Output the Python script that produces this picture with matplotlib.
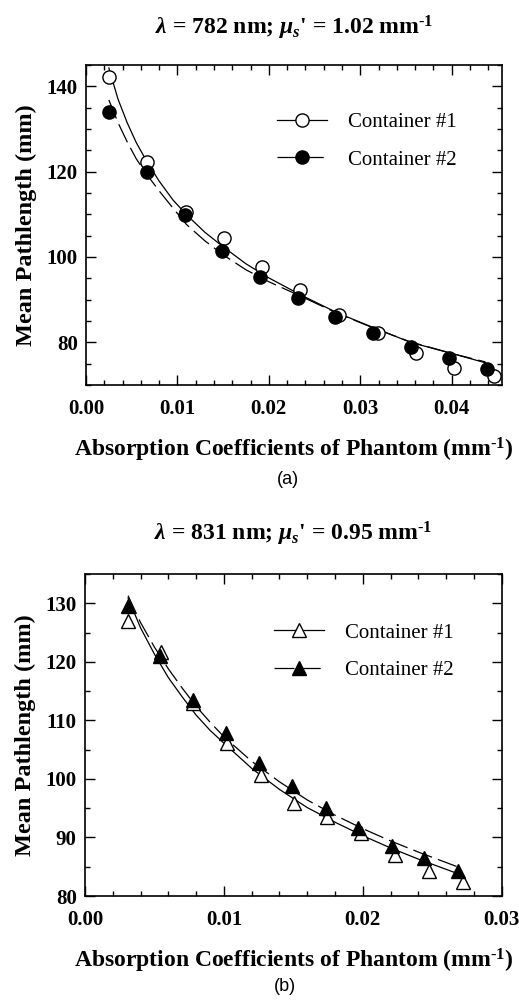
import matplotlib
matplotlib.use('Agg')
import matplotlib.pyplot as plt
from matplotlib.ticker import MultipleLocator, FormatStrFormatter

plt.rcParams['font.family'] = ['Liberation Serif', 'DejaVu Serif']
plt.rcParams['font.weight'] = 'bold'
plt.rcParams['axes.labelweight'] = 'bold'
plt.rcParams['axes.titleweight'] = 'bold'
plt.rcParams['mathtext.fontset'] = 'custom'
plt.rcParams['mathtext.rm'] = 'Liberation Serif:bold'
plt.rcParams['mathtext.it'] = 'Liberation Serif:italic:bold'
plt.rcParams['mathtext.bf'] = 'Liberation Serif:bold'

# ---- panel (a): 782 nm ----
mua_a1 = [0.00255, 0.00669, 0.01091, 0.01509, 0.01924, 0.02345, 0.02771, 0.03189, 0.03607, 0.04029, 0.04458]
path_a1 = [142.3, 122.3, 110.6, 104.5, 97.7, 92.2, 86.5, 82.3, 77.4, 74.1, 72.0]
mua_a2 = [0.00255, 0.00665, 0.01080, 0.01487, 0.01905, 0.02315, 0.02726, 0.03140, 0.03552, 0.03969, 0.04387]
path_a2 = [134.0, 119.9, 109.8, 101.4, 95.2, 90.3, 86.0, 82.1, 79.0, 76.3, 73.8]

# fitted curves
fit_a_x = [0.0025, 0.0035, 0.0045, 0.0055, 0.0067, 0.008, 0.0095, 0.011, 0.013,
           0.015, 0.0175, 0.02, 0.0235, 0.0275, 0.0315, 0.0355, 0.04, 0.0437]
fit_a1 = [144.3, 137.0, 131.5, 126.8, 122.2, 117.8, 113.4, 109.9, 105.8,
          102.4, 98.4, 95.1, 91.1, 86.9, 83.4, 80.0, 77.4, 75.2]
fit_a2 = [136.8, 131.5, 127.0, 123.0, 119.2, 115.5, 111.5, 107.6, 103.8,
          100.5, 97.0, 94.2, 90.8, 86.8, 83.3, 80.1, 77.4, 75.4]

# ---- panel (b): 831 nm ----
mua_b1 = [0.00313, 0.00548, 0.00777, 0.01022, 0.0127, 0.01503, 0.01744, 0.01985, 0.02232, 0.02478, 0.02718]
path_b1 = [126.9, 121.7, 113.0, 106.2, 100.6, 95.8, 93.5, 90.8, 87.0, 84.2, 82.4]
mua_b2 = [0.00313, 0.00541, 0.00780, 0.01012, 0.01256, 0.01491, 0.01732, 0.01968, 0.02208, 0.02441, 0.02682]
path_b2 = [129.5, 121.0, 113.4, 107.8, 102.8, 98.8, 95.0, 91.6, 88.6, 86.5, 84.2]

fit_b1_x = [0.0031, 0.004, 0.005, 0.006, 0.007, 0.008, 0.009, 0.010, 0.012,
            0.014, 0.016, 0.018, 0.020, 0.022, 0.024, 0.0272]
fit_b1 = [130.9, 125.8, 121.3, 117.3, 114.0, 110.9, 108.3, 106.1, 101.8,
          98.2, 95.1, 92.6, 90.3, 88.2, 86.3, 83.5]
fit_b2_x = [0.0031, 0.004, 0.005, 0.006, 0.007, 0.008, 0.009, 0.010, 0.012,
            0.014, 0.016, 0.018, 0.020, 0.022, 0.024, 0.0268]
fit_b2 = [131.3, 126.7, 122.5, 118.8, 115.5, 112.4, 109.7, 107.2, 103.0,
          99.5, 96.4, 93.8, 91.5, 89.4, 87.5, 85.0]

labels = ['Container #1', 'Container #2']
dash = (0, (16, 5))
inv_mm = r'mm$^{\text{-}1}$'


def style_axes(ax, xmax, xmajor, ymin, ymax, ymajor):
    ax.set_xlim(0, xmax)
    ax.set_ylim(ymin, ymax)
    ax.xaxis.set_major_locator(MultipleLocator(xmajor))
    ax.xaxis.set_minor_locator(MultipleLocator(0.002))
    ax.yaxis.set_major_locator(MultipleLocator(ymajor))
    ax.yaxis.set_minor_locator(MultipleLocator(5))
    ax.xaxis.set_major_formatter(FormatStrFormatter('%.2f'))
    ax.tick_params(which='both', direction='in', top=True, right=True, width=1)
    ax.tick_params(which='major', length=7, labelsize=15)
    ax.tick_params(axis='x', which='major', pad=10)
    ax.tick_params(axis='y', which='major', pad=6)
    ax.tick_params(which='minor', length=3.5)
    for s in ax.spines.values():
        s.set_linewidth(1.2)
    ax.set_xlabel('Absorption Coefficients of Phantom (' + inv_mm + ')',
                  fontsize=17, fontweight='bold', labelpad=12)
    ax.set_ylabel('Mean Pathlength (mm)', fontsize=17.5, fontweight='bold', labelpad=7)


fig = plt.figure(figsize=(5.19, 10), dpi=100)

# panel (a)
ax1 = fig.add_axes([0.1657, 0.615, 0.8015, 0.32])
ax1.plot(fit_a_x, fit_a1, color='black', lw=0.9, zorder=2)
ax1.plot(fit_a_x, fit_a2, color='black', lw=0.9, ls=dash, zorder=2)
ax1.plot(mua_a1, path_a1, 'o', ms=9.5, mfc='white', mec='black', mew=1.0, zorder=3)
ax1.plot(mua_a2, path_a2, 'o', ms=9.5, mfc='black', mec='black', zorder=4)
h1, = ax1.plot([], [], '-o', color='black', lw=0.9, ms=9.5, mfc='white', mew=1.0)
h2, = ax1.plot([], [], marker='o', color='black', lw=0.9, ls=dash, ms=9.5)
ax1.legend([h1, h2], labels, loc='upper left', bbox_to_anchor=(0.459, 0.851),
           frameon=False, borderpad=0, borderaxespad=0, handlelength=2.4,
           handletextpad=1.0, labelspacing=0.85, numpoints=1,
           prop={'family': 'Liberation Serif', 'weight': 'normal', 'size': 15})
style_axes(ax1, 0.0455, 0.01, 70, 145, 20)
ax1.set_title(r"$\lambda$ = 782 nm; $\mu_s$' = 1.02 " + inv_mm, fontsize=17,
              fontweight='bold', pad=22)
fig.text(0.555, 0.52, '(a)', ha='center', va='center', fontsize=13,
         family='Liberation Sans', weight='normal')

# panel (b)
ax2 = fig.add_axes([0.1638, 0.104, 0.803, 0.322])
ax2.plot(fit_b1_x, fit_b1, color='black', lw=0.9, zorder=2)
ax2.plot(fit_b2_x, fit_b2, color='black', lw=0.9, ls=dash, zorder=2)
ax2.plot(mua_b1, path_b1, '^', ms=10, mfc='white', mec='black', mew=1.0, zorder=3)
ax2.plot(mua_b2, path_b2, '^', ms=10, mfc='black', mec='black', zorder=4)
g1, = ax2.plot([], [], '-^', color='black', lw=0.9, ms=10, mfc='white', mew=1.0)
g2, = ax2.plot([], [], marker='^', color='black', lw=0.9, ls=dash, ms=10)
ax2.legend([g1, g2], labels, loc='upper left', bbox_to_anchor=(0.4536, 0.848),
           frameon=False, borderpad=0, borderaxespad=0, handlelength=2.4,
           handletextpad=1.0, labelspacing=0.85, numpoints=1,
           prop={'family': 'Liberation Serif', 'weight': 'normal', 'size': 15})
style_axes(ax2, 0.03, 0.01, 80, 135, 10)
ax2.set_title(r"$\lambda$ = 831 nm; $\mu_s$' = 0.95 " + inv_mm, fontsize=17,
              fontweight='bold', pad=24)
fig.text(0.549, 0.0133, '(b)', ha='center', va='center', fontsize=13,
         family='Liberation Sans', weight='normal')

fig.savefig('out.png', dpi=100)
